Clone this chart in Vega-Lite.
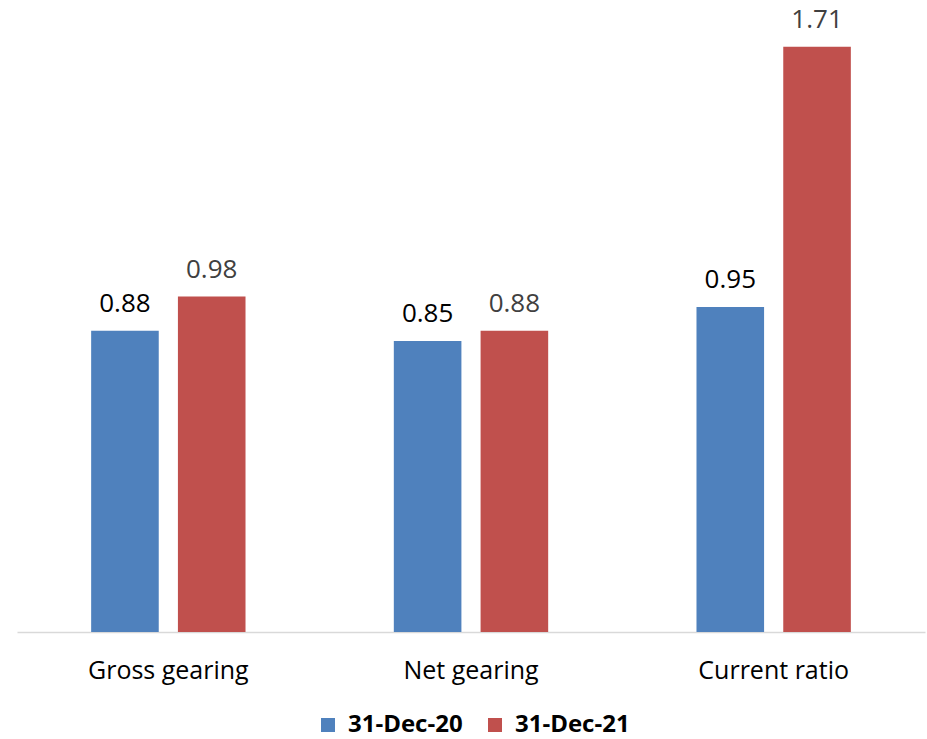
{
  "$schema": "https://vega.github.io/schema/vega-lite/v6.json",
  "width": 908,
  "height": 616,
  "autosize": {"type": "none"},
  "padding": {"left": 17, "top": 16, "right": 2, "bottom": 107},
  "background": "#ffffff",
  "config": {"view": {"stroke": null}, "font": "Open Sans"},
  "data": {
    "values": [
      {"category": "Gross gearing", "series": "31-Dec-20", "value": 0.88},
      {"category": "Gross gearing", "series": "31-Dec-21", "value": 0.98},
      {"category": "Net gearing", "series": "31-Dec-20", "value": 0.85},
      {"category": "Net gearing", "series": "31-Dec-21", "value": 0.88},
      {"category": "Current ratio", "series": "31-Dec-20", "value": 0.95},
      {"category": "Current ratio", "series": "31-Dec-21", "value": 1.71}
    ]
  },
  "encoding": {
    "x": {
      "field": "category", "type": "nominal", "sort": null,
      "scale": {"paddingInner": 0.49, "paddingOuter": 0.245},
      "axis": {"title": null, "labelAngle": 0, "labelFontSize": 25, "labelColor": "#000000", "labelFont": "Open Sans",
               "ticks": false, "tickSize": 0, "labelPadding": 46, "labelBaseline": "alphabetic",
               "domainColor": "#d9d9d9", "domainWidth": 1.5, "grid": false}
    },
    "xOffset": {"field": "series", "type": "nominal", "scale": {"paddingInner": 0.221, "paddingOuter": 0}},
    "y": {
      "field": "value", "type": "quantitative",
      "scale": {"domain": [0, 1.8], "nice": false, "zero": true},
      "axis": null
    }
  },
  "layer": [
    {
      "mark": {"type": "bar"},
      "encoding": {
        "color": {
          "field": "series", "type": "nominal",
          "scale": {"domain": ["31-Dec-20", "31-Dec-21"], "range": ["#4f81bd", "#c0504d"]},
          "legend": {
            "title": null, "orient": "none", "legendX": 299, "legendY": 697, "direction": "horizontal",
            "symbolType": "square", "symbolSize": 196, "symbolStrokeWidth": 0,
            "labelFontSize": 24, "labelFontWeight": "bold", "labelColor": "#000000", "labelFont": "Open Sans",
            "labelOffset": 8, "columnPadding": 20, "labelLimit": 300
          }
        }
      }
    },
    {
      "mark": {"type": "text", "baseline": "alphabetic", "dy": -19, "fontSize": 26, "font": "Open Sans"},
      "encoding": {
        "text": {"field": "value", "type": "quantitative", "format": ".2f"},
        "color": {"condition": {"test": "datum.series === '31-Dec-21'", "value": "#404040"}, "value": "#000000"}
      }
    }
  ]
}
